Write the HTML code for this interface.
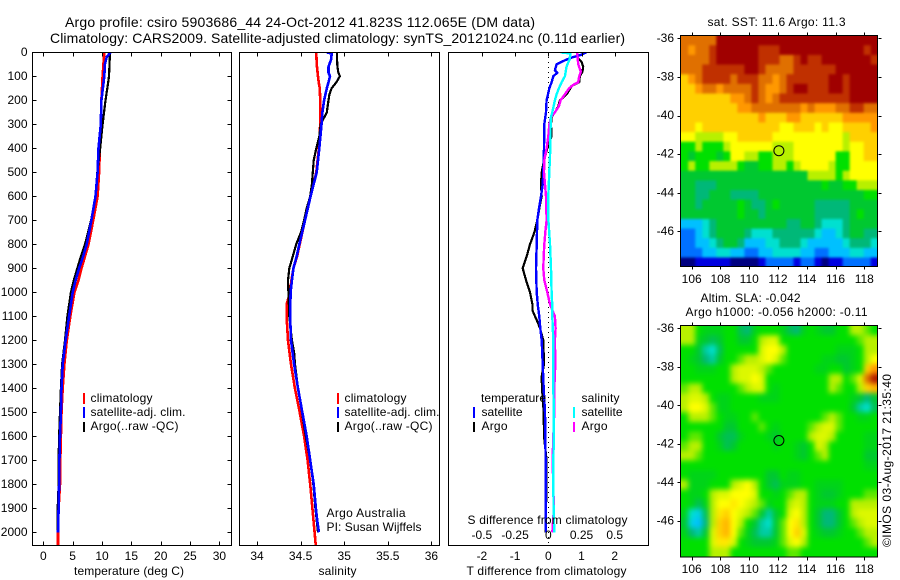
<!DOCTYPE html>
<html lang="en">
<head>
<meta charset="utf-8">
<title>Argo profile 5903686_44</title>
<style>
html,body{margin:0;padding:0;background:#fff;}
svg{display:block;}
text{font-family:"Liberation Sans",Arial,sans-serif;font-size:12px;fill:#000;}
.frame{fill:none;stroke:#000;stroke-width:1;shape-rendering:crispEdges;}
.tick{stroke:#000;stroke-width:1;shape-rendering:crispEdges;}
.line{fill:none;shape-rendering:crispEdges;stroke-linejoin:round;}
.key{shape-rendering:crispEdges;}
</style>
</head>
<body>
<svg id="chart" xmlns="http://www.w3.org/2000/svg" width="900" height="580" viewBox="0 0 900 580">
  <defs>
    <clipPath id="clip-temp"><rect x="32" y="52" width="200" height="493"/></clipPath>
    <clipPath id="clip-sal"><rect x="239" y="52" width="201" height="493"/></clipPath>
    <clipPath id="clip-diff"><rect x="448" y="52" width="201" height="493"/></clipPath>
    <clipPath id="clip-sst"><rect x="681" y="36" width="196.5" height="230"/></clipPath>
    <clipPath id="clip-sla"><rect x="681" y="326" width="196.5" height="230.5"/></clipPath>
    <filter id="soften-sst" filterUnits="userSpaceOnUse" x="660" y="20" width="235" height="260" color-interpolation-filters="sRGB">
      <feGaussianBlur stdDeviation="1.3"/>
      <feComponentTransfer><feFuncA type="linear" slope="30"/></feComponentTransfer>
    </filter>
    <filter id="soften-sla" filterUnits="userSpaceOnUse" x="660" y="310" width="235" height="260" color-interpolation-filters="sRGB">
      <feGaussianBlur stdDeviation="2.6"/>
      <feComponentTransfer><feFuncA type="linear" slope="30"/></feComponentTransfer>
    </filter>
  </defs>

  <text x="65" y="27" font-size="14" style="font-size:14px" textLength="470" lengthAdjust="spacing">Argo profile: csiro 5903686_44 24-Oct-2012 41.823S 112.065E (DM data)</text>
  <text x="50" y="43" style="font-size:14px" textLength="575" lengthAdjust="spacing">Climatology: CARS2009. Satellite-adjusted climatology: synTS_20121024.nc (0.11d earlier)</text>

  <g id="temp-marks" clip-path="url(#clip-temp)"></g>
  <g id="sal-marks" clip-path="url(#clip-sal)"></g>
  <g id="diff-marks" clip-path="url(#clip-diff)"></g>
  <g clip-path="url(#clip-sst)"><g id="sst-cells" filter="url(#soften-sst)"></g></g>
  <g clip-path="url(#clip-sla)"><g id="sla-cells" filter="url(#soften-sla)"></g></g>
  <g id="ticks"></g>

  <rect class="frame" x="32.5" y="52.5" width="199" height="493"/>
  <rect class="frame" x="239.5" y="52.5" width="200" height="493"/>
  <rect class="frame" x="448.5" y="52.5" width="200" height="493"/>
  <rect class="frame" x="680.5" y="35.5" width="197" height="231"/>
  <rect class="frame" x="680.5" y="325.5" width="197" height="231.5"/>

  <text x="74" y="575" textLength="110" lengthAdjust="spacing">temperature (deg C)</text>
  <text x="318.5" y="575" textLength="38" lengthAdjust="spacing">salinity</text>
  <text x="466.5" y="575" textLength="160" lengthAdjust="spacing">T difference from climatology</text>
  <text x="467.5" y="524" textLength="160" lengthAdjust="spacing">S difference from climatology</text>

  <g>
    <rect class="key" x="83" y="393" width="2" height="11" fill="#f00"/>
    <text x="90.5" y="402" textLength="62" lengthAdjust="spacing">climatology</text>
    <rect class="key" x="83" y="407" width="2" height="11" fill="#00f"/>
    <text x="90.5" y="416" textLength="95" lengthAdjust="spacing">satellite-adj. clim.</text>
    <rect class="key" x="83" y="422" width="2" height="10" fill="#000"/>
    <text x="90.5" y="430" textLength="88" lengthAdjust="spacing">Argo(..raw -QC)</text>
  </g>
  <g>
    <rect class="key" x="337" y="393" width="2" height="11" fill="#f00"/>
    <text x="344.5" y="402" textLength="62" lengthAdjust="spacing">climatology</text>
    <rect class="key" x="337" y="407" width="2" height="11" fill="#00f"/>
    <text x="344.5" y="416" textLength="95" lengthAdjust="spacing">satellite-adj. clim.</text>
    <rect class="key" x="337" y="422" width="2" height="10" fill="#000"/>
    <text x="344.5" y="430" textLength="88" lengthAdjust="spacing">Argo(..raw -QC)</text>
  </g>
  <text x="326.5" y="517" textLength="79" lengthAdjust="spacing">Argo Australia</text>
  <text x="326.5" y="531" textLength="95" lengthAdjust="spacing">PI: Susan Wijffels</text>

  <g>
    <text x="481" y="402" textLength="65" lengthAdjust="spacing">temperature</text>
    <rect class="key" x="473" y="407" width="2" height="11" fill="#00f"/>
    <text x="481.5" y="416" textLength="41" lengthAdjust="spacing">satellite</text>
    <rect class="key" x="473" y="422" width="2" height="10" fill="#000"/>
    <text x="481.5" y="430" textLength="26" lengthAdjust="spacing">Argo</text>
    <text x="581.5" y="402" textLength="38" lengthAdjust="spacing">salinity</text>
    <rect class="key" x="573" y="407" width="2" height="11" fill="#0ff"/>
    <text x="581.5" y="416" textLength="41" lengthAdjust="spacing">satellite</text>
    <rect class="key" x="573" y="422" width="2" height="10" fill="#f0f"/>
    <text x="581.5" y="430" textLength="26" lengthAdjust="spacing">Argo</text>
  </g>

  <text x="707.5" y="26" textLength="138" lengthAdjust="spacing">sat. SST: 11.6 Argo: 11.3</text>
  <text x="700.5" y="302" textLength="100" lengthAdjust="spacing">Altim. SLA: -0.042</text>
  <text x="685.5" y="316" textLength="182" lengthAdjust="spacing">Argo h1000: -0.056 h2000: -0.11</text>
  <text transform="translate(891,547) rotate(-90)" textLength="173" lengthAdjust="spacing">©IMOS 03-Aug-2017 21:35:40</text>
</svg>

<script>
/* ---------- profile data: depth (m) and value arrays ---------- */
const depthTicks = [0,100,200,300,400,500,600,700,800,900,1000,1100,1200,1300,1400,1500,1600,1700,1800,1900,2000];
const tempTicks = [0,5,10,15,20,25,30];
const salTicks = [34,34.5,35,35.5,36];
const salTickLabels = ['34','34.5','35','35.5','36'];
const tDiffTicks = [-2,-1,0,1,2];
const sDiffTicks = [-0.5,-0.25,0,0.25,0.5];
const sDiffTickLabels = ['-0.5','-0.25','0','0.25','0.5'];
const lonTicks = [106,108,110,112,114,116,118];
const latTicks = [-36,-38,-40,-42,-44,-46];

const tempClimDepth = [0,100,200,300,400,500,600,700,800,850,900,950,1000,1100,1200,1300,1400,1500,1600,1700,1800,1900,2000,2060];
const tempClim = [10.4,10.1,9.9,9.8,9.65,9.5,9.25,8.5,7.7,7.1,6.5,6.0,5.3,4.6,4.0,3.6,3.3,3.1,3.0,2.9,2.85,2.6,2.5,2.5];
const tempSatDepth = [0,20,50,100,200,300,400,500,600,700,800,850,900,950,1000,1100,1200,1300,1400,1500,1600,1700,1800,1900,2000];
const tempSat = [11.45,10.8,10.5,10.4,9.9,9.8,9.4,9.25,8.9,8.2,7.4,6.8,6.1,5.5,5.0,4.4,3.8,3.3,3.1,3.0,2.85,2.75,2.7,2.6,2.5];
const tempArgoDepth = [0,100,150,200,300,400,500,600,700,800,850,900,950,1000,1100,1200,1300,1400,1500,1600,1700,1800,1900,2000];
const tempArgo = [11.36,11.2,10.9,10.6,10.1,9.7,9.2,8.9,8.15,7.1,6.4,5.8,5.2,4.7,4.1,3.7,3.2,3.0,2.85,2.7,2.6,2.6,2.45,2.4];

const salClimDepth = [0,50,100,130,150,200,300,400,500,600,700,800,850,900,950,1000,1050,1100,1200,1300,1400,1500,1600,1700,1800,1900,2000,2060];
const salClim = [34.68,34.685,34.70,34.71,34.72,34.725,34.725,34.71,34.68,34.615,34.55,34.49,34.46,34.417,34.395,34.38,34.34,34.34,34.355,34.39,34.435,34.49,34.54,34.58,34.61,34.635,34.66,34.675];
const salSatDepth = [0,1,5,30,60,85,100,125,150,200,250,300,400,450,500,600,700,800,850,900,950,1000,1100,1200,1300,1400,1500,1600,1700,1800,1900,1950,2000];
const salSat = [34.807,34.807,34.857,34.85,34.82,34.82,34.837,34.82,34.80,34.77,34.75,34.74,34.715,34.70,34.685,34.615,34.55,34.485,34.455,34.417,34.40,34.385,34.38,34.39,34.425,34.47,34.52,34.57,34.61,34.65,34.675,34.69,34.71];
const salArgoDepth = [0,50,80,100,125,150,175,200,250,300,350,400,450,500,550,600,650,700,750,800,850,900,950,1000,1100,1200,1250,1300,1400,1500,1600,1700,1800,1900,2000];
const salArgo = [34.917,34.92,34.93,34.95,34.91,34.856,34.83,34.82,34.80,34.73,34.715,34.68,34.65,34.64,34.63,34.61,34.57,34.54,34.505,34.45,34.41,34.37,34.355,34.36,34.37,34.40,34.425,34.436,34.47,34.516,34.56,34.61,34.646,34.67,34.70];

const tDiffSatDepth = [0,10,20,30,50,75,85,100,125,150,175,200,250,300,400,500,550,600,650,700,750,800,900,1000,1060,1100,1150,1200,1300,1400,1500,1600,1700,1800,1900,2000];
const tDiffSat = [1.15,1.0,0.75,0.55,0.25,0.2,0.27,0.15,0.1,0.03,-0.01,-0.05,-0.07,-0.12,-0.13,-0.15,-0.17,-0.22,-0.28,-0.33,-0.34,-0.35,-0.37,-0.35,-0.31,-0.27,-0.24,-0.2,-0.17,-0.14,-0.1,-0.09,-0.08,-0.08,-0.08,-0.07];
const tDiffArgoDepth = [0,25,40,60,80,100,125,140,150,175,200,225,250,270,300,350,400,450,500,550,600,650,700,750,800,850,900,950,1000,1050,1075,1100,1125,1150,1200,1300,1350,1400,1500,1600,1700,1800,1900,2000];
const tDiffArgo = [0.87,0.9,1.0,1.05,1.03,0.95,0.93,0.7,0.67,0.55,0.35,0.3,0.2,0.1,0.08,0.1,-0.03,-0.13,-0.2,-0.22,-0.2,-0.27,-0.33,-0.42,-0.55,-0.65,-0.77,-0.67,-0.55,-0.48,-0.48,-0.4,-0.32,-0.25,-0.15,-0.13,-0.2,-0.19,-0.14,-0.13,-0.05,-0.05,-0.07,-0.08];
const sDiffSatDepth = [0,1,5,30,60,100,125,150,175,200,250,275,300,400,500,600,700,800,900,1000,1060,1100,1200,1300,1400,1500,1600,1700,1800,1900,2000];
const sDiffSat = [0.1,0.1,0.167,0.16,0.137,0.125,0.1,0.08,0.0625,0.05,0.03,0.0175,0.0175,0.015,0.0075,0,0.001,0.0125,0.02,0.025,0.03,0.03,0.0375,0.0375,0.0375,0.0425,0.0425,0.0375,0.0375,0.04,0.045];
const sDiffArgoDepth = [0,50,80,100,125,135,150,175,200,225,250,270,300,350,400,450,500,550,600,700,750,800,850,900,950,1000,1050,1100,1150,1200,1300,1400,1500,1600,1700,1900,2000];
const sDiffArgo = [0.2175,0.225,0.245,0.2325,0.225,0.19,0.1575,0.125,0.0925,0.08,0.05,0.02,0.0075,0,-0.0125,-0.03,-0.0325,-0.025,-0.0175,-0.0125,-0.0225,-0.03,-0.035,-0.0375,-0.03,-0.0075,0.0125,0.05,0.055,0.05,0.0525,0.045,0.045,0.0375,0.0325,0.0425,0.03];

/* ---------- map data: colour-scale level per 0.5 degree cell, north row first ---------- */
const sstLevels = [
[12,12,12,12,12,14,14,14,14,14,14,14,14,14,14,14,14,14,14,14,14,14,14,14,14,14,14,14],
[12,11,12,12,13,14,14,14,14,14,14,13,13,13,14,14,14,14,14,14,14,14,14,14,14,14,13,14],
[12,12,12,12,13,14,14,14,14,14,14,13,13,13,12,12,13,14,13,13,14,14,14,14,14,14,14,13],
[12,12,12,13,13,13,13,13,13,14,14,13,12,12,12,12,13,13,13,13,13,13,14,14,14,14,14,14],
[10,11,12,13,13,13,13,12,13,13,13,12,12,11,12,13,13,13,13,13,13,14,14,13,14,14,14,14],
[10,10,11,12,12,11,12,12,12,12,13,12,11,11,12,13,14,14,13,13,13,14,14,13,14,14,14,14],
[10,10,10,10,10,10,10,11,11,12,13,12,11,12,13,13,13,13,13,13,13,13,13,13,14,14,14,14],
[10,10,10,10,10,10,10,10,11,11,12,12,12,12,12,12,12,11,12,11,11,11,12,12,13,13,12,12],
[10,10,10,10,10,10,10,10,10,10,10,11,10,10,10,11,11,10,10,10,10,10,10,11,11,11,11,11],
[10,10,9,10,10,10,10,10,10,10,10,10,10,10,9,9,10,10,10,9,10,9,9,10,10,10,10,11],
[9,9,8,8,8,8,9,9,10,10,10,10,10,9,9,9,9,9,9,9,9,9,9,8,10,10,10,10],
[7,7,8,7,7,7,8,9,9,9,9,9,9,8,8,8,9,9,9,9,9,9,9,8,9,9,10,10],
[7,6,7,7,7,6,7,9,9,8,8,7,7,8,8,8,9,9,9,9,9,9,7,7,9,9,10,10],
[7,8,7,7,8,8,8,8,7,6,6,7,7,8,8,7,8,9,9,9,9,8,7,7,9,9,9,9],
[6,6,6,6,6,6,6,6,6,6,6,6,6,6,6,6,6,6,8,8,8,8,7,8,9,9,9,9],
[6,6,5,5,5,6,6,6,6,6,6,6,6,6,6,6,6,6,6,6,7,6,6,7,7,8,8,8],
[6,6,5,5,6,6,6,5,5,5,5,6,6,6,6,6,6,6,6,6,6,6,6,6,6,6,7,7],
[6,6,5,6,6,6,6,6,7,6,5,5,6,7,6,6,6,6,6,5,5,5,5,5,6,6,6,6],
[6,6,6,6,6,6,6,6,7,6,6,5,6,6,6,6,6,6,6,5,5,5,5,5,6,7,6,6],
[3,3,3,4,5,6,6,6,6,6,6,6,6,6,6,5,5,6,6,5,4,4,4,5,6,6,6,6],
[2,2,3,4,5,6,6,6,6,5,4,4,4,5,5,5,5,5,5,4,3,3,4,5,6,6,5,5],
[2,2,3,3,4,5,6,6,5,3,3,3,4,4,5,5,5,4,3,3,3,3,3,4,5,5,5,4],
[2,2,2,3,3,4,4,3,3,2,2,3,3,4,4,4,4,3,3,2,2,3,3,3,4,4,3,3],
[0,0,1,1,1,1,1,0,0,0,0,1,2,2,2,2,1,2,2,1,0,1,1,2,2,2,2,1]
];
const slaLevels = [
[8,8,7,6.5,6.5,6.5,7,7,5.5,5,6.5,7,7,7,6.5,5.5,5,6.5,7,6.5,6,6,7,7,8,8,7.5,7],
[8,8,6.5,6,5.5,6,7,7,6,6,7,8,8.5,8.5,7,7,7,7,7,7,7,7,7,7,7,7.5,8,8],
[7,7,6,4.5,4,5.5,7,7,7,7,7,8.5,9,9,8,7,7,7,7,7,7,7,6.5,6.5,6.5,7,8,8],
[7,6.5,6,5,4.5,6,7,7,7.5,8,8,8.5,9,8.5,7.5,7,7,7,7,7,6.5,6.5,6,6,6.5,7,8,9],
[7,7,6.5,6.5,6.5,7,7,8,8.5,8.5,8.5,8,7.5,7,7,7,7,7,7,6.5,6.5,7,7,6,6.5,7,10,11],
[7,7,7,7,7,7,7,8,8.5,8.5,9,8.5,7,7,7,7,7,7,7,7,7,8,8,7,7.5,8.5,12,13.5],
[7.5,8,8,7,7,7,7,7,7.5,8,8.5,8.5,7,6.5,7,7,7,7,7,7,7,8,7.5,7,7,8,10,10.5],
[8,8.5,8.5,8,7,6.5,6.5,7,7,7,7,6.5,6.5,6.5,7,7,7,7,7,7,7,7,7,7,6.5,6,5,6],
[8,9,9,8.5,7.5,6.5,6.5,7,7,7,7,7,7,7,7,7,7,7,7,7,7,7,7,7,6,4.5,4,5.5],
[7,8,8,8,7.5,7,6.5,6.5,7,7,7.5,7,7,7,7,7,7,7,7,7,7.5,8,7.5,7,7,6.5,6.5,7],
[7,7,7,7,7,7,6,6,7,7,7,7.5,7,6.5,7,7,7,7,7.5,8,8.5,8.5,7.5,7,7,7,7,7],
[7,7.5,7.5,7,7,6,5.5,5.5,6.5,7,7,7,6.5,6,7,7,7,7,8,8.5,8.5,8,7,7,7,7,6.5,6.5],
[7.5,8,8,7,7,6.5,5.5,6,7,7,7,7,7,6.5,7,7,6.5,6,7,8.5,8,7,7,7,7,7,6.5,6.5],
[8,8,7.5,7,7,7,7,7,7,7,7,7,7,7,7,7,6.5,6,7,7.5,8,7,7,7,7,7,6,6],
[7,7,7,7,7,7,7,7,7,7,7,7,7,7,7,7,7,7,7,7,7,7,7,7,7,7,6.5,6.5],
[7,6.5,6.5,6.5,6.5,7,7,7,7,7,7,7,6,6,7,6.5,6.5,7,7,7,7,7,7,7,7,7,7,7],
[8,6.5,6.5,6.5,7,7,7,8,8.5,9,8,7,6,5.5,6.5,6.5,6.5,7,7,6.5,6.5,6.5,6.5,7,7,7,7,7],
[7,6.5,6.5,7,8,8.5,8.5,9,9,9,8.5,7,7,6.5,7,7.5,8,8,7,6.5,6,6,6.5,7,7,7,7.5,7.5],
[7,6.5,5.5,6.5,8,9,9,9.5,9,8.5,8,7.5,6.5,7,7,8,8.5,8,7,6.5,6.5,6.5,7,7,8,8,8,8],
[6.5,4,3.5,5.5,8,9.5,10,9,8.5,8,7.5,6,4.5,6,7,8.5,9,8,7,6,5,5,6,7,8,8.5,8.5,8.5],
[6,3.5,3,5,8,10,10.5,9,8,7,6,4.5,4,6,7.5,9,9.5,8,7,6,5,5,6,7,7.5,8,8.5,8.5],
[6.5,5,4.5,6,8.5,10,10.5,9,7.5,6.5,5.5,4.5,4.5,6,7.5,9,10,8.5,7,6.5,6,6,6.5,7,7,7.5,8,8],
[7,7,7,7,8.5,9.5,9.5,8.5,7,6.5,6,6,6,6.5,7.5,8.5,9,8,7,7,7,7,7,7,7,7,7.5,8],
[7,7,7,7,8,8,8,7,7,7,7,7,7,7,7,7.5,7.5,7,7,7,7,7,7,7,7,7,7,7]
];
const floatLon = 112.065;
const floatLat = -41.823;

/* ---------- scales ---------- */
const NS = 'http://www.w3.org/2000/svg';
const palette = ['#000080','#0000e0','#0070ff','#00c0ff','#00e0d0','#00b878','#00c830','#00e000','#b8f000','#ffff00','#ffd000','#ff9800','#e07000','#c03000','#a00000'];
function yDepth(d){return 52.3 + 0.24*d;}
function xTemp(t){return 43.3 + 5.87*t;}
function xSal(s){return 257 + 87.2*(s-34);}
function xTDiff(t){return 548.3 + 33.2*t;}
function xSDiff(s){return 548.3 + 132.8*s;}
function xLon(lon){return 691.7 + 14.383*(lon-106);}
function ySst(lat){return 38.3 + 19.3*(-36-lat);}
function ySla(lat){return 328.3 + 19.27*(-36-lat);}
function levelColor(v){
  const i=Math.max(0,Math.min(13,Math.floor(v)));
  const f=Math.max(0,Math.min(1,v-i));
  const a=palette[i],b=palette[i+1];
  const ch=function(p){
    const A=parseInt(a.substr(p,2),16),B=parseInt(b.substr(p,2),16);
    return Math.round(A+(B-A)*f);
  };
  return 'rgb('+ch(1)+','+ch(3)+','+ch(5)+')';
}
function setAll(el,attrs){for(const k in attrs){el.setAttribute(k,attrs[k]);}return el;}

/* ---------- profile lines ---------- */
function profileLine(parent,depths,values,xFn,color,width,name){
  const pts=depths.map(function(d,i){return xFn(values[i]).toFixed(1)+','+yDepth(d).toFixed(1);}).join(' ');
  const el=document.createElementNS(NS,'polyline');
  
  
  setAll(el,{'class':'line',points:pts,stroke:color,'stroke-width':width});
  parent.appendChild(el);
}
const tempG=document.getElementById('temp-marks');
profileLine(tempG,tempClimDepth,tempClim,xTemp,'#f00',2.6,'temperature-climatology-line');
profileLine(tempG,tempArgoDepth,tempArgo,xTemp,'#000',2.2,'temperature-argo-line');
profileLine(tempG,tempSatDepth,tempSat,xTemp,'#00f',2.6,'temperature-satellite-line');
const salG=document.getElementById('sal-marks');
profileLine(salG,salClimDepth,salClim,xSal,'#f00',2.6,'salinity-climatology-line');
profileLine(salG,salArgoDepth,salArgo,xSal,'#000',2.2,'salinity-argo-line');
profileLine(salG,salSatDepth,salSat,xSal,'#00f',2.6,'salinity-satellite-line');
const diffG=document.getElementById('diff-marks');
const zeroLine=document.createElementNS(NS,'line');


setAll(zeroLine,{x1:xTDiff(0),x2:xTDiff(0),y1:52,y2:545,stroke:'#000','stroke-width':1,'stroke-dasharray':'1 4','shape-rendering':'crispEdges'});
diffG.appendChild(zeroLine);
profileLine(diffG,tDiffArgoDepth,tDiffArgo,xTDiff,'#000',2.2,'t-difference-argo-line');
profileLine(diffG,tDiffSatDepth,tDiffSat,xTDiff,'#00f',2.4,'t-difference-satellite-line');
profileLine(diffG,sDiffArgoDepth,sDiffArgo,xSDiff,'#f0f',2.4,'s-difference-argo-line');
profileLine(diffG,sDiffSatDepth,sDiffSat,xSDiff,'#0ff',2.4,'s-difference-satellite-line');

/* ---------- maps ---------- */
const gridLonStart=105.27, gridLonStep=0.488, gridLatStart=-35.86, gridLatStep=0.5;
function drawMap(parent,grid,yFn,name){
  grid.forEach(function(row,r){
    row.forEach(function(v,c){
      const x0=xLon(gridLonStart+c*gridLonStep), x1=xLon(gridLonStart+(c+1)*gridLonStep);
      const y0=yFn(gridLatStart-r*gridLatStep), y1=yFn(gridLatStart-(r+1)*gridLatStep);
      const cell=document.createElementNS(NS,'rect');
      
      
      setAll(cell,{x:x0.toFixed(2),y:y0.toFixed(2),width:(x1-x0+0.4).toFixed(2),height:(y1-y0+0.4).toFixed(2),fill:levelColor(v)});
      parent.appendChild(cell);
    });
  });
}
drawMap(document.getElementById('sst-cells'),sstLevels,ySst,'sst-cell');
drawMap(document.getElementById('sla-cells'),slaLevels,ySla,'sla-cell');

/* ---------- ticks and tick labels ---------- */
const tickG=document.getElementById('ticks');
function tickLine(x1,y1,x2,y2,name){
  const el=document.createElementNS(NS,'line');
  
  
  setAll(el,{'class':'tick',x1:Math.round(x1)+0.5,y1:Math.round(y1)+0.5,x2:Math.round(x2)+0.5,y2:Math.round(y2)+0.5});
  tickG.appendChild(el);
}
function tickText(x,y,str,anchor,name){
  const el=document.createElementNS(NS,'text');
  
  
  setAll(el,{x:x,y:y,'text-anchor':anchor});
  el.textContent=str;
  tickG.appendChild(el);
}
depthTicks.forEach(function(d){
  const y=yDepth(d);
  tickLine(32,y,36,y,'depth-tick-left');
  tickLine(227,y,231,y,'depth-tick-right');
  tickText(27.5,y+3.6,String(d),'end','depth-tick-label');
});
tempTicks.forEach(function(t){
  const x=xTemp(t);
  tickLine(x,52,x,56,'temperature-tick-top');
  tickLine(x,541,x,545,'temperature-tick-bottom');
  tickText(x,560,String(t),'middle','temperature-tick-label');
});
salTicks.forEach(function(s,i){
  const x=xSal(s);
  tickLine(x,52,x,56,'salinity-tick-top');
  tickLine(x,541,x,545,'salinity-tick-bottom');
  tickText(x,560,salTickLabels[i],'middle','salinity-tick-label');
});
tDiffTicks.forEach(function(t){
  const x=xTDiff(t);
  tickLine(x,52,x,56,'t-difference-tick-top');
  tickText(x,560,String(t),'middle','t-difference-tick-label');
});
sDiffTicks.forEach(function(s,i){
  tickText(xSDiff(s),539,sDiffTickLabels[i],'middle','s-difference-tick-label');
});
function mapAxes(yFn,top,bottom,labelY,name){
  lonTicks.forEach(function(lon){
    const x=xLon(lon);
    tickLine(x,top-3,x,top,name+'-lon-tick-top');
    tickLine(x,bottom,x,bottom+3,name+'-lon-tick-bottom');
    tickText(x,labelY,String(lon),'middle',name+'-lon-tick-label');
  });
  latTicks.forEach(function(lat){
    const y=yFn(lat);
    tickLine(677,y,680,y,name+'-lat-tick-left');
    tickLine(878,y,881,y,name+'-lat-tick-right');
    tickText(674,y+3.6,String(lat),'end',name+'-lat-tick-label');
  });
}
mapAxes(ySst,35,266,283,'sst');
mapAxes(ySla,325,557,573,'sla');

/* ---------- float position markers ---------- */
function marker(yFn,name){
  const el=document.createElementNS(NS,'circle');
  
  
  setAll(el,{cx:xLon(floatLon).toFixed(1),cy:yFn(floatLat).toFixed(1),r:5,fill:'none',stroke:'#000','stroke-width':1});
  document.getElementById('chart').appendChild(el);
}
marker(ySst,'sst-float-position-marker');
marker(ySla,'sla-float-position-marker');
</script>
</body>
</html>
